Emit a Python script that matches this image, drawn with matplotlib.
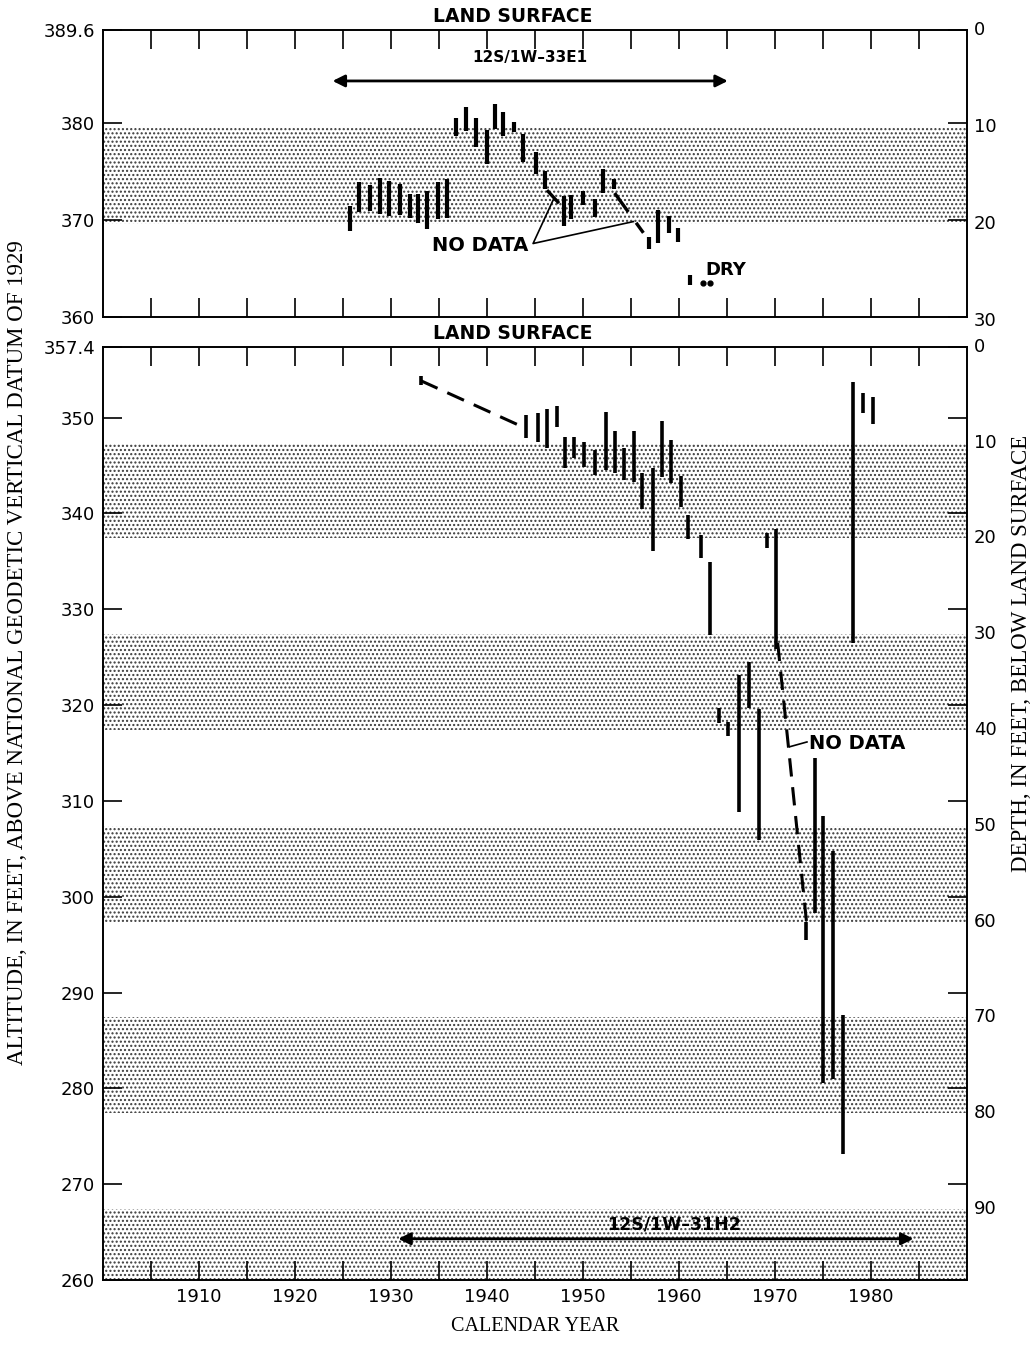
import matplotlib.pyplot as plt
import numpy as np

# upper graph, well 12S/1W-33E1: yearly range of water level (ft above NGVD 1929)
top_land = 389.6
top_years = [1925.7, 1926.7, 1927.8, 1928.8, 1929.8, 1930.9, 1932.0, 1932.8, 1933.7, 1934.9, 1935.8,
             1936.8, 1937.8, 1938.9, 1940.0, 1940.8, 1941.7, 1942.8, 1943.8, 1945.1, 1946.0,
             1948.0, 1948.8, 1950.0, 1951.3, 1952.1, 1953.2,
             1956.9, 1957.8, 1959.0, 1959.9, 1961.2]
top_low = [368.9, 370.8, 370.9, 370.6, 370.4, 370.5, 370.25, 369.75, 369.05, 370.1, 370.25,
           378.7, 379.2, 377.5, 375.8, 379.4, 378.7, 379.1, 376.0, 374.8, 373.2,
           369.4, 370.1, 371.6, 370.3, 372.85, 373.2,
           367.0, 367.7, 368.7, 367.8, 363.3]
top_high = [371.5, 373.95, 373.6, 374.3, 374.05, 373.7, 372.7, 372.7, 373.0, 373.9, 374.2,
            380.5, 381.7, 380.5, 379.25, 382.0, 381.2, 380.1, 378.9, 377.0, 375.1,
            372.5, 372.6, 373.0, 372.2, 375.3, 374.2,
            368.3, 371.1, 370.4, 369.2, 364.4]
dry_years = [1962.55, 1963.25]
dry_level = [363.5, 363.5]
top_gap_x = [[1946.25, 1947.5], [1953.3, 1956.3]]
top_gap_y = [[373.1, 371.75], [372.8, 368.7]]

# lower graph, well 12S/1W-31H2
bot_land = 357.4
bot_years = [1933.1, 1944.1, 1945.35, 1946.2, 1947.25, 1948.1, 1949.1, 1950.15, 1951.3, 1952.4,
             1953.35, 1954.3, 1955.35, 1956.2, 1957.25, 1958.2, 1959.2, 1960.2, 1961.0, 1962.3,
             1963.25, 1964.2, 1965.15, 1966.3, 1967.3, 1968.35, 1969.2, 1970.1, 1973.3, 1974.2,
             1975.05, 1976.1, 1977.1, 1978.2, 1979.2, 1980.2]
bot_low = [353.4, 347.85, 347.5, 346.8, 349.05, 344.7, 345.75, 344.85, 344.0, 344.55,
           344.2, 343.5, 343.3, 340.45, 336.1, 343.85, 343.15, 340.7, 337.35, 335.4,
           327.3, 318.15, 316.75, 308.85, 319.65, 305.9, 336.35, 325.9, 295.5, 298.25,
           280.55, 280.95, 273.15, 326.5, 350.45, 349.35]
bot_high = [354.35, 350.25, 350.45, 350.95, 351.2, 347.95, 348.0, 347.5, 346.6, 350.6,
            348.65, 346.8, 348.65, 344.2, 344.7, 349.65, 347.65, 343.9, 339.85, 337.75,
            334.95, 319.65, 318.25, 323.15, 324.5, 319.55, 338.0, 338.35, 297.4, 314.45,
            308.4, 304.8, 287.7, 353.75, 352.55, 352.2]
bot_gap_x = [[1933.1, 1944.0], [1970.3, 1973.3]]
bot_gap_y = [[353.85, 348.9], [326.5, 297.4]]

num_font = 'DejaVu Sans'
serif_font = 'Liberation Serif'

fig = plt.figure(figsize=(10.34, 13.45), dpi=100)
ax1 = fig.add_axes([0.0999, 0.7641, 0.835, 0.2136])
ax2 = fig.add_axes([0.0999, 0.04833, 0.835, 0.6939])


def setup(ax, land, bottom, left_ticks, depth_labels, xlabels):
    ax.set_xlim(1900, 1990)
    ax.set_ylim(bottom, land)
    # stippled bands every other 10 ft of depth
    for d in range(10, 100, 20):
        lo = max(land - d - 10, bottom)
        hi = land - d
        if hi > bottom:
            ax.axhspan(lo, hi, facecolor='white', edgecolor='#3a3a3a', hatch='....', lw=0, zorder=0)
    ax.set_xticks(np.arange(1905, 1990, 5))
    if xlabels:
        ax.set_xticklabels([str(y) if y % 10 == 0 else '' for y in range(1905, 1990, 5)])
    else:
        ax.set_xticklabels([])
    ax.set_yticks(left_ticks)
    ax.set_yticklabels([('%.1f' % t) if t == land else '%d' % t for t in left_ticks])
    ax.tick_params(direction='in', length=14, width=1.2, top=True, right=True,
                   labelsize=13, pad=6)
    for s in ax.spines.values():
        s.set_linewidth(1.4)
    for lab in ax.get_xticklabels() + ax.get_yticklabels():
        lab.set_fontfamily(num_font)
    # depth below land surface on the right
    for d in depth_labels:
        ax.text(1.008, land - d, str(d), transform=ax.get_yaxis_transform(),
                ha='left', va='center', fontsize=13, family=num_font)
    ax.text(1942.7, land + 0.4, 'LAND SURFACE', ha='center', va='bottom',
            fontsize=13.5, fontweight='bold', family=num_font)


setup(ax1, top_land, 360, [360, 370, 380, 389.6], [0, 10, 20, 30], False)
setup(ax2, bot_land, 260, [260, 270, 280, 290, 300, 310, 320, 330, 340, 350, 357.4],
      [0, 10, 20, 30, 40, 50, 60, 70, 80, 90], True)

# upper graph
ax1.vlines(top_years, top_low, top_high, colors='k', lw=3, zorder=3)
ax1.plot(dry_years, dry_level, 'ko', ms=3.5, zorder=3)
for gx, gy in zip(top_gap_x, top_gap_y):
    ax1.plot(gx, gy, 'k-', lw=2.4, dashes=(7, 4), zorder=3)
ax1.plot([1946.9, 1944.8, 1955.25], [372.1, 367.6, 369.86], 'k-', lw=1.2, zorder=3)
ax1.text(1939.3, 367.35, 'NO DATA', ha='center', va='center', fontsize=14,
         fontweight='bold', family=num_font)
ax1.text(1962.8, 364.9, 'DRY', ha='left', va='center', fontsize=13,
         fontweight='bold', family=num_font)
ax1.annotate('', xy=(1923.9, 384.35), xytext=(1965.1, 384.35),
             arrowprops=dict(arrowstyle='<|-|>', lw=2, color='k', mutation_scale=18,
                             shrinkA=0, shrinkB=0))
ax1.text(1944.5, 386.8, '12S/1W\u201333E1', ha='center', va='center', fontsize=11,
         fontweight='bold', family=num_font)

# lower graph
ax2.vlines(bot_years, bot_low, bot_high, colors='k', lw=2.6, zorder=3)
for gx, gy in zip(bot_gap_x, bot_gap_y):
    ax2.plot(gx, gy, 'k-', lw=2.2, dashes=(6, 3.5), zorder=3)
ax2.plot([1971.55, 1973.35], [315.65, 316.15], 'k-', lw=1.2, zorder=3)
ax2.text(1973.55, 316.0, 'NO DATA', ha='left', va='center', fontsize=14,
         fontweight='bold', family=num_font)
ax2.annotate('', xy=(1930.75, 264.3), xytext=(1984.45, 264.3),
             arrowprops=dict(arrowstyle='<|-|>', lw=2, color='k', mutation_scale=18,
                             shrinkA=0, shrinkB=0))
ax2.text(1959.5, 265.75, '12S/1W\u201331H2', ha='center', va='center', fontsize=12.5,
         fontweight='bold', family=num_font)

fig.text(0.0165, 0.515, 'ALTITUDE, IN FEET, ABOVE NATIONAL GEODETIC VERTICAL DATUM OF 1929',
         rotation=90, ha='center', va='center', fontsize=16.5, family=serif_font)
fig.text(0.988, 0.514, 'DEPTH, IN FEET, BELOW LAND SURFACE',
         rotation=90, ha='center', va='center', fontsize=16.5, family=serif_font)
fig.text(0.5179, 0.0134, 'CALENDAR YEAR', ha='center', va='center', fontsize=14.5,
         family=serif_font)

fig.savefig('out.png', dpi=100)
